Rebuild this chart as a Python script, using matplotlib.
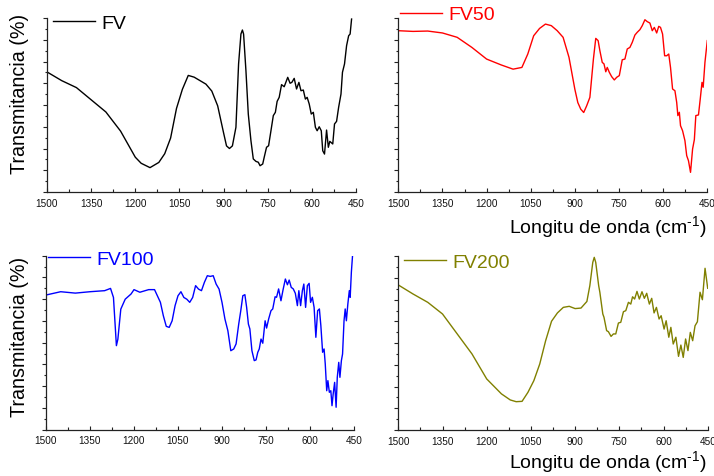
import matplotlib
matplotlib.use("Agg")
import matplotlib.pyplot as plt
from matplotlib.ticker import MultipleLocator

plt.rcParams['font.family'] = ['Liberation Sans', 'DejaVu Sans']
plt.rcParams['mathtext.fontset'] = 'custom'
plt.rcParams['mathtext.rm'] = 'Liberation Sans'

# ---------------- data (transmittance in arbitrary %-scale) -------------
fv_wn = [1500, 1450, 1400, 1350, 1300, 1250, 1220, 1200, 1180, 1150, 1120, 1100, 1080, 1060,
         1040, 1020, 1000, 980, 960, 940, 920, 900, 890, 880, 870,
         858, 849, 841, 836, 832, 824, 816, 807, 799, 790, 782, 776, 767, 762, 754, 747,
         739, 731, 724, 718, 711, 703, 694, 682, 674, 668, 660, 652, 644, 637, 629, 622,
         616, 609, 602, 595, 588, 582, 575, 568, 563, 557, 550, 544, 539, 529, 523, 516,
         509, 501, 496, 489, 482, 475, 470, 465]
fv_t = [69, 64, 60, 53, 46, 35, 26, 20, 16.5, 14, 17, 22, 31, 48,
        59, 67, 66, 64, 62, 58, 49.5, 34, 26.5, 25, 26.5,
        37.2, 73.6, 90.8, 93.1, 90.8, 69.7, 44.8, 29.5, 19, 17.6, 17.1, 15.1, 16.1, 19.9, 25.7, 26.6,
        35.2, 43.9, 45.8, 52.1, 54.4, 61.7, 60.5, 65.9, 62.5, 63, 65.3, 59.2, 63, 58.2, 58.6, 53.4,
        54.4, 50.6, 44.8, 45.8, 37.2, 35.2, 37.5, 35.2, 23.7, 21.8, 35.6, 25.7, 29.1, 27.6, 39.1, 40.6,
        48.7, 56.3, 68.8, 73.6, 84.1, 89.8, 90.8, 99.4]

fv50_wn = [1500, 1450, 1400, 1350, 1300, 1250, 1200, 1150, 1110, 1080, 1060, 1040, 1020, 1000,
           980, 960, 940, 920, 900, 890, 880, 870, 860,
           849, 837, 829, 821, 815, 807, 801, 795, 790, 783, 775, 766, 758, 749, 739, 730,
           722, 713, 705, 696, 688, 679, 671, 662, 654, 645, 637, 630, 622, 615, 609, 602,
           595, 588, 581, 575, 568, 560, 554, 550, 545, 541, 534, 526, 520, 514, 507, 500,
           494, 489, 480, 474, 468, 464, 458, 450]
fv50_t = [92.7, 92.3, 92.5, 91.4, 88.9, 83.1, 76.4, 73, 70.6, 71.6, 79.3, 89.8, 94, 96.5,
          95.6, 92.7, 88.9, 77.4, 59, 51.4, 47.6, 45.7, 49.5,
          54.4, 76.4, 88.3, 87, 81.2, 74.5, 73.6, 69.1, 71.6, 68.8, 66.3, 64.4, 65.9, 66.9, 76, 76.4,
          82.2, 83.1, 86, 90.2, 91.8, 93.3, 95.6, 99, 97.9, 97.1, 92.7, 94.6, 91.4, 95.2, 94.6, 90.8,
          78.3, 78.3, 79.3, 71.6, 59.2, 58.2, 51.5, 43.9, 45.8, 38.1, 35.2, 29.5, 20.9, 18, 11.3, 24.7,
          30.1, 43.9, 44.3, 53.4, 63, 60.2, 74.5, 87]

fv100_wn = [1500, 1450, 1400, 1350, 1300, 1280, 1270, 1260, 1255, 1245, 1230, 1210, 1200, 1180,
            1150, 1130, 1110, 1100, 1090, 1080, 1070, 1060, 1050, 1040, 1030, 1020, 1010, 1000,
            990, 980, 970, 960, 950, 940, 930, 920, 910, 900, 890, 880, 870, 860,
            852, 843, 836, 829, 822, 816, 810, 805, 798, 790, 784, 778, 773, 767, 761, 753,
            748, 741, 733, 727, 719, 714, 707, 699, 692, 684, 677, 671, 664, 657, 650, 643,
            638, 632, 626, 621, 615, 609, 603, 598, 592, 586, 580, 574, 568, 563, 557, 552,
            548, 543, 539, 534, 529, 525, 521, 516, 511, 507, 502, 498, 493, 489, 484, 480,
            476, 471, 466, 463, 459, 455]
fv100_t = [77.4, 79.3, 78.5, 79.3, 79.9, 81.2, 76, 48.3, 52, 69.3, 75, 78, 80.5, 79,
           80.5, 80.5, 73.2, 65.5, 59.4, 58.8, 62.6, 71.3, 77, 79.3, 76, 75, 73.2, 76,
           82.8, 80.8, 79.9, 84.7, 88.5, 88.1, 88.5, 83.7, 80.8, 73.2, 63.6, 56.9, 45.4, 46.4,
           49.3, 60.7, 68.4, 77, 77.6, 70.3, 60.7, 57.9, 45.4, 39.7, 40.1, 44.5, 46.4, 52.1, 49.7, 62.6,
           58.4, 63.6, 68.4, 69.4, 76.4, 76.1, 80.9, 74.1, 80.3, 86.6, 83.3, 86, 81.8, 80.9, 78.4, 71.3,
           79.9, 71.3, 79.9, 83.7, 70.3, 82.8, 84.1, 73.2, 76.1, 70.3, 53.1, 68.4, 69.4, 59.8, 44.5, 46.4,
           37.8, 22.4, 28.2, 21.5, 22.4, 13.8, 20.5, 27.2, 12.9, 30.1, 38.7, 30.1, 39.7, 43.5, 62.6, 69.4,
           62.6, 72.2, 79.9, 76.1, 90.5, 100]

fv200_wn = [1500, 1450, 1400, 1350, 1300, 1250, 1200, 1150, 1120, 1100, 1080, 1060, 1040, 1020,
            1000, 980, 960, 940, 920, 900, 880, 860, 850, 840, 835, 830, 820,
            816, 806, 802, 793, 787, 778, 770, 762, 753, 745, 736, 728, 719, 711, 705, 698,
            690, 682, 673, 665, 657, 648, 640, 632, 624, 615, 608, 598, 591, 582, 575, 567,
            558, 549, 541, 533, 525, 517, 509, 501, 493, 485, 476, 468, 459, 450]
fv200_t = [83.5, 78.3, 73.5, 66.8, 55.3, 43.8, 29.4, 20.8, 17.3, 16.3, 16.5, 21.7, 28.4, 38,
           51.4, 62.6, 67.4, 70.6, 71.2, 69.9, 70.2, 74, 83.1, 96.5, 99.4, 96.5, 83.1,
           79.3, 66.8, 64.9, 57.2, 56.6, 53.9, 55.3, 55.3, 61.6, 62, 68.1, 68.7, 73.5, 72.5, 76.7, 75.4,
           79.8, 75.4, 79.6, 75.8, 78.7, 72.5, 75.8, 67.4, 70.6, 63.9, 65.8, 58.1, 62.9, 53.4, 59.1, 49.5,
           53.4, 42.4, 48.9, 41.8, 52.4, 45.7, 56.2, 51.4, 60, 62.3, 79.3, 75, 93.1, 81.6]

series = [("FV", fv_wn, fv_t, "black"),
          ("FV50", fv50_wn, fv50_t, "#ff0000"),
          ("FV100", fv100_wn, fv100_t, "#0000ff"),
          ("FV200", fv200_wn, fv200_t, "#808000")]

# ---------------- layout ----------------
W, H = 714, 477
fig = plt.figure(figsize=(W / 100, H / 100), dpi=100)

def rect(l, t, r, b):
    return [l / W, 1 - b / H, (r - l) / W, (b - t) / H]

rects = [rect(47, 19, 356, 193), rect(398.3, 19, 707.3, 193),
         rect(46, 256.7, 354, 430.7), rect(398.3, 257.3, 707.7, 431)]
leg_anchor = [(0.019, 0.971), (0.0055, 1.019), (0.0065, 0.981), (0.018, 0.967)]

spine_col = "#222222"
for (name, wn, t, col), r, anc in zip(series, rects, leg_anchor):
    ax = fig.add_axes(r)
    ax.plot(wn, t, color=col, lw=1.0, label=name)
    ax.set_xlim(1500, 450)
    ax.set_ylim(0, 100)
    ax.xaxis.set_major_locator(MultipleLocator(150))
    ax.xaxis.set_minor_locator(MultipleLocator(75))
    ax.yaxis.set_major_locator(MultipleLocator(12.5))
    ax.yaxis.set_minor_locator(MultipleLocator(6.25))
    ax.set_yticklabels([])
    ax.tick_params(axis='y', which='major', direction='out', length=3, width=0.8, color=spine_col, labelleft=False)
    ax.tick_params(axis='y', which='minor', direction='out', length=1.5, width=0.8, color=spine_col)
    ax.tick_params(axis='x', which='major', direction='in', length=3, width=0.8, color=spine_col,
                   labelsize=7.2, pad=4, labelcolor="#111111")
    ax.tick_params(axis='x', which='minor', direction='in', length=2, width=0.8, color=spine_col)
    for s in ("top", "right"):
        ax.spines[s].set_visible(False)
    for s in ("left", "bottom"):
        ax.spines[s].set_color(spine_col)
        ax.spines[s].set_linewidth(0.9)
    ax.legend(loc="center left", bbox_to_anchor=anc, frameon=False, fontsize=14,
              handlelength=2.15, handletextpad=0.35, borderpad=0, borderaxespad=0,
              labelcolor=col)

# axis labels
for yc in (94, 337):
    fig.text(20 / W, 1 - yc / H, "Transmitancia (%)", rotation=90, ha="center", va="center",
             fontsize=14.2)
for yc in (228, 463):
    fig.text(707 / W, 1 - yc / H, r"Longitu de onda (cm$^{\text{-1}}$)", ha="right", va="center",
             fontsize=14)

fig.savefig("out.png", dpi=100)
